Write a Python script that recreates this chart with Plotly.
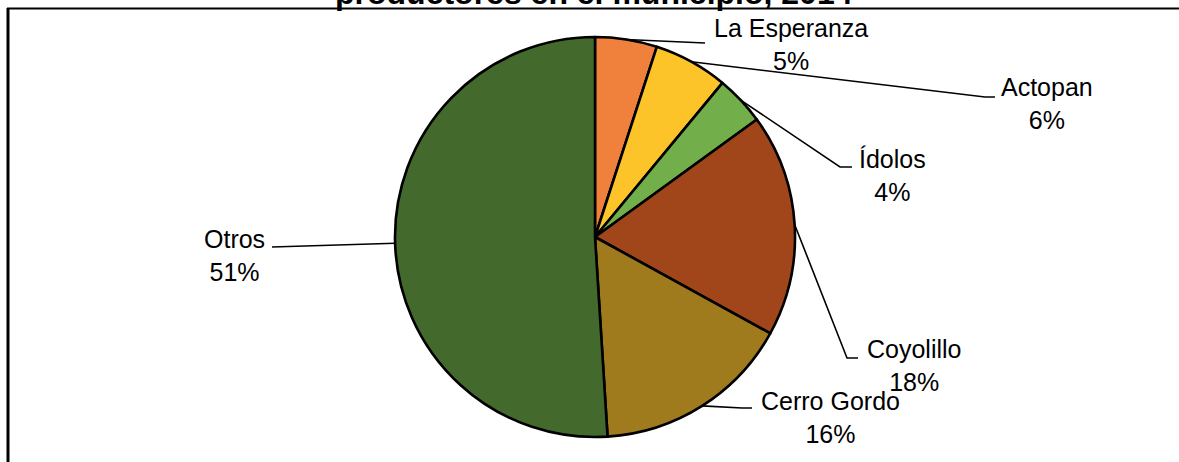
import math

import plotly.graph_objects as go

# slices, clockwise from 12 o'clock
labels = ["La Esperanza", "Actopan", "Ídolos", "Coyolillo", "Cerro Gordo", "Otros"]
values = [5, 6, 4, 18, 16, 51]
colors = ["#F0813D", "#FDC42A", "#72AE4A", "#A0461A", "#A07B1E", "#436A2C"]

title_text = "productores en el municipio, 2014"

W, H = 1179, 462
CX, CY, R = 595, 237, 200  # pie centre / radius in pixels

# label block centre and leader-line path (elbow, end) in pixels
label_pos = {
    "La Esperanza": dict(text=(791, 44), path=[(705, 43)]),
    "Actopan": dict(text=(1047, 103), path=[(985, 97), (995, 97)]),
    "Ídolos": dict(text=(892, 175), path=[(840, 167), (852, 167)]),
    "Coyolillo": dict(text=(914, 365), path=[(847, 358), (858, 358)]),
    "Cerro Gordo": dict(text=(830, 417), path=[(742, 408), (752, 408)]),
    "Otros": dict(text=(234, 255), path=[(272, 247)]),
}


def px(x):
    return x / W


def py(y):
    return 1 - y / H


fig = go.Figure()

fig.add_trace(
    go.Pie(
        labels=labels,
        values=values,
        sort=False,
        direction="clockwise",
        rotation=0,
        textinfo="none",
        hoverinfo="label+percent",
        marker=dict(colors=colors, line=dict(color="#000000", width=2.6)),
        domain=dict(x=[px(CX - R), px(CX + R)], y=[py(CY + R), py(CY - R)]),
        showlegend=False,
    )
)

total = sum(values)
shapes = []
annotations = []
cum = 0
for name, val in zip(labels, values):
    mid = (cum + val / 2) / total * 2 * math.pi
    cum += val
    x0 = CX + R * math.sin(mid)
    y0 = CY - R * math.cos(mid)
    pts = [(x0, y0)] + label_pos[name]["path"]
    path = "M " + " L ".join(f"{px(x):.5f},{py(y):.5f}" for x, y in pts)
    shapes.append(
        dict(type="path", xref="paper", yref="paper", path=path,
             line=dict(color="#000000", width=1.6))
    )
    tx, ty = label_pos[name]["text"]
    annotations.append(
        dict(
            x=px(tx), y=py(ty), xref="paper", yref="paper",
            xanchor="center", yanchor="middle",
            text=f"{name}<br>{round(val / total * 100)}%",
            showarrow=False, align="center",
            font=dict(family="Liberation Sans, Arial", size=25, color="#000000"),
        )
    )

# chart title, cut off by the top of the image
annotations.append(
    dict(
        x=px(594), y=py(-7), xref="paper", yref="paper",
        xanchor="center", yanchor="middle",
        text=f"<b>{title_text}</b>", showarrow=False,
        font=dict(family="Liberation Sans, Arial", size=32, color="#000000"),
    )
)

# frame (top and left edges visible)
shapes.append(dict(type="line", xref="paper", yref="paper",
                   x0=px(7), x1=1, y0=py(8.5), y1=py(8.5),
                   line=dict(color="#000000", width=2)))
shapes.append(dict(type="line", xref="paper", yref="paper",
                   x0=px(8), x1=px(8), y0=py(8), y1=0,
                   line=dict(color="#000000", width=3)))

fig.update_layout(
    width=W,
    height=H,
    margin=dict(l=0, r=0, t=0, b=0),
    paper_bgcolor="#FFFFFF",
    plot_bgcolor="#FFFFFF",
    shapes=shapes,
    annotations=annotations,
)

fig.write_html(
    "out.html",
    config={"displayModeBar": False},
    post_script="document.body.style.margin='0';",
)
